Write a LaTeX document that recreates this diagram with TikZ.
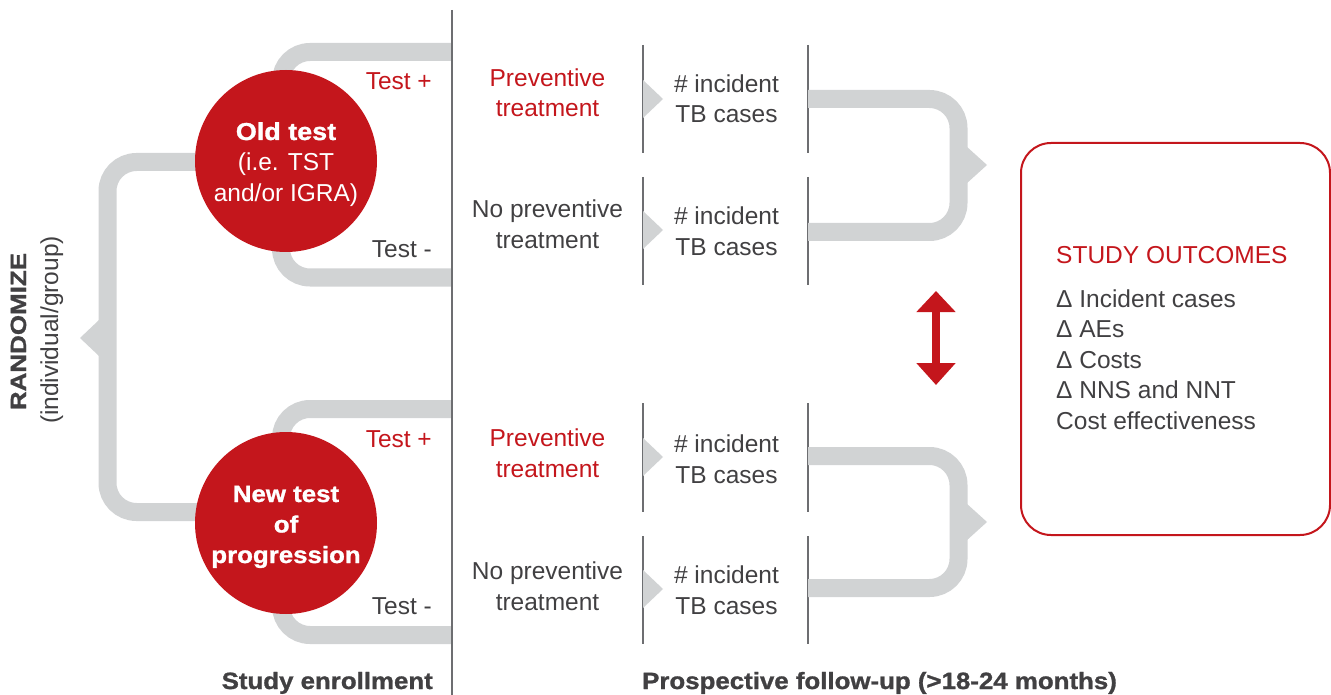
\documentclass[tikz,border=0pt]{standalone}
\usepackage{fontspec}
\setmainfont{Liberation Sans}
\newfontfamily\heavy{Liberation Sans}[FakeStretch=1.1,FakeBold=1.2]
\newfontfamily\heavywide{Liberation Sans}[FakeStretch=1.18,FakeBold=1.2]
\usetikzlibrary{calc,arrows.meta,backgrounds}
\definecolor{tbred}{HTML}{C4161C}
\definecolor{bandgray}{HTML}{D1D3D4}
\definecolor{ink}{HTML}{414042}
\definecolor{rulegray}{HTML}{6D6E71}
\newcommand\regtxt{\fontsize{24.5pt}{30.5pt}\selectfont}
\newcommand\headtxt{\fontsize{23.5pt}{30.5pt}\selectfont\heavy\bfseries}
\newcommand\randtxt{\fontsize{22pt}{26pt}\selectfont\heavywide\bfseries}

\begin{document}
\begin{tikzpicture}[x=1pt,y=-1pt,
  band/.style={draw=bandgray,line width=18pt,rounded corners=29pt},
  notch/.style={fill=bandgray},
  divider/.style={draw=rulegray,line width=1.3pt},
  testcircle/.style={circle,fill=tbred,minimum size=182pt,inner sep=0pt},
  circletext/.style={text=white,align=center,inner sep=0pt,anchor=base},
  body/.style={text=ink,font=\regtxt,align=center,inner sep=0pt},
  redbody/.style={body,text=tbred},
  heading/.style={text=ink,font=\headtxt,inner sep=0pt},
]
\useasboundingbox (0,0) rectangle (1331,695);

% ---- test circles (multi-line texts are placed by their last baseline) ----
\node[testcircle] (old) at (286,161) {};
\node[circletext,font=\fontsize{24.5pt}{31pt}\selectfont] (oldText) at (286,202)
  {{\heavy\bfseries Old test}\\(i.e. TST\\and/or IGRA)};
\node[testcircle] (new) at (286,523) {};
\node[circletext,font=\headtxt] (newText) at (286,563)
  {New test\\of\\progression};

% ---- enrollment / follow-up divider ----
\coordinate (divTop) at (452,10);
\coordinate (divBot) at (452,695);
\draw[divider] (divTop) -- (divBot);

% branch end points on the divider
\coordinate (oldPos) at (452,52);
\coordinate (oldNeg) at (452,277.5);
\coordinate (newPos) at (452,409);
\coordinate (newNeg) at (452,635);
\coordinate (randJoin) at (107.5,338);

\begin{pgfonlayer}{background}
  % randomisation bracket
  \draw[band] ($(old.center)+(0,1)$) -| (randJoin) |- ($(new.center)+(0,-11)$);
  \fill[notch] (99,320) -- (80,338) -- (99,356) -- cycle;
  % test result branches
  \draw[band] (oldPos) -| ($(old.center)+(-5,0)$) |- (oldNeg);
  \draw[band] (newPos) -| ($(new.center)+(-5,0)$) |- (newNeg);
\end{pgfonlayer}

% ---- test result labels ----
\node[redbody,anchor=base east] (oldPosLbl) at (432,90) {Test +};
\node[body,anchor=base east] (oldNegLbl) at (432,258) {Test -};
\node[redbody,anchor=base east] (newPosLbl) at (432,447) {Test +};
\node[body,anchor=base east] (newNegLbl) at (432,614) {Test -};

% ---- treatment arms ----
\node[redbody,anchor=base] (tr1) at (547.5,117) {Preventive\\treatment};
\node[body,anchor=base] (tr2) at (547.5,248) {No preventive\\treatment};
\node[redbody,anchor=base] (tr3) at (547.5,477) {Preventive\\treatment};
\node[body,anchor=base] (tr4) at (547.5,610) {No preventive\\treatment};

% ---- incident case columns ----
\foreach \top/\bot/\mid/\base/\nm in {45/153/99/123/inc1, 177/285/230/255/inc2,
                                      403/512/457/483/inc3, 536/644/589/614/inc4}{
  \draw[divider] (643,\top) -- (643,\bot);
  \draw[divider] (808,\top) -- (808,\bot);
  \fill[notch] (643,\mid-19) -- (663,\mid) -- (643,\mid+19) -- cycle;
  \node[body,anchor=base] (\nm) at (726.5,\base) {\# incident\\TB cases};
}

% ---- merging brackets towards the outcomes ----
\coordinate (m1a) at (808,99);
\coordinate (m1b) at (808,232);
\coordinate (m1j) at (958.5,165);
\coordinate (m2a) at (808,456);
\coordinate (m2b) at (808,588);
\coordinate (m2j) at (958.5,522);
\draw[band] (m1a) -| (m1j) |- (m1b);
\draw[band] (m2a) -| (m2j) |- (m2b);
\fill[notch] (966,146) -- (987,165) -- (966,184) -- cycle;
\fill[notch] (966,503) -- (987,522) -- (966,541) -- cycle;

% ---- comparison arrow ----
\coordinate (cmpTop) at (936,291);
\coordinate (cmpBot) at (936,385);
\draw[draw=tbred,line width=8pt,
  {Triangle[width=38pt,length=21pt]}-{Triangle[width=38pt,length=22pt]}]
  (cmpTop) -- (cmpBot);

% ---- outcomes box ----
\node[draw=tbred,line width=2pt,rounded corners=30pt,minimum width=309pt,
  minimum height=392pt,inner sep=0pt,anchor=north west] (outcomes) at (1020,142) {};
\node[text=tbred,font=\regtxt,inner sep=0pt,anchor=base west] (outTitle)
  at (1056,263) {STUDY OUTCOMES};
\node[body,align=left,anchor=base west] (outList) at (1056,429)
  {Δ Incident cases\\Δ AEs\\Δ Costs\\Δ NNS and NNT\\Cost effectiveness};

% ---- side and bottom headings ----
\node[text=ink,font=\randtxt,inner sep=0pt,rotate=90,anchor=base] (rand)
  at (26,331.5) {RANDOMIZE};
\node[body,rotate=90,anchor=base] (randSub) at (58,330) {(individual/group)};
\node[heading,anchor=base east] (enroll) at (433,689) {Study enrollment};
\node[heading,anchor=base] (follow) at (879.5,689) {Prospective follow-up (>18-24 months)};
\end{tikzpicture}
\end{document}
